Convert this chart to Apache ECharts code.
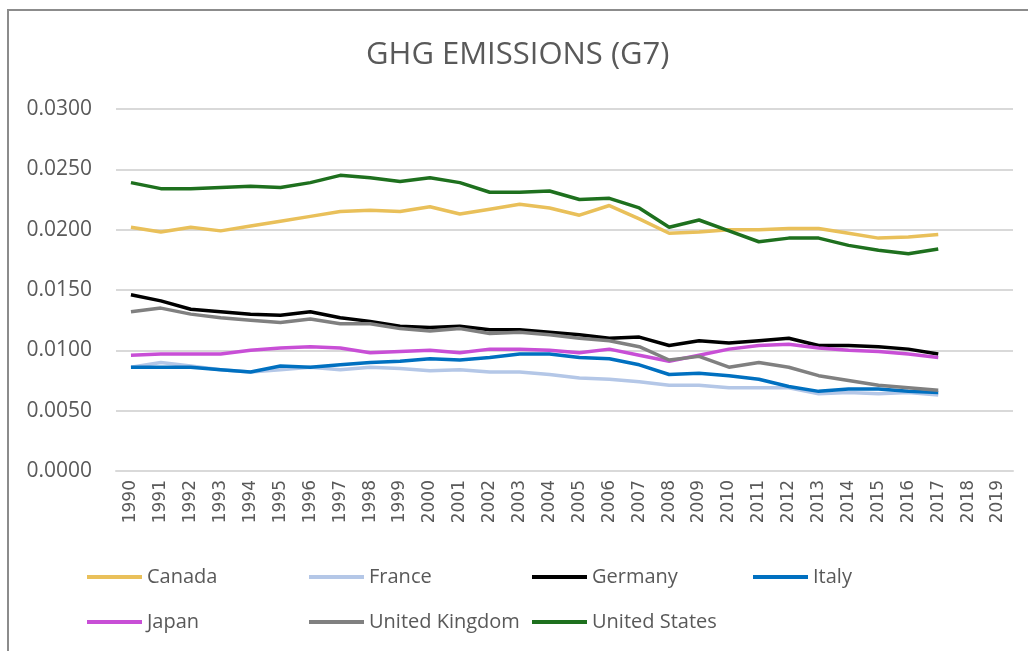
<!DOCTYPE html>
<html>
<head>
<meta charset="utf-8">
<script src="https://cdn.jsdelivr.net/npm/echarts@6/dist/echarts.min.js"></script>
<style>
html,body{margin:0;padding:0;background:#fff;}
#chart{width:1028px;height:651px;}
</style>
</head>
<body>
<div id="chart"></div>
<script>
const years = ['1990','1991','1992','1993','1994','1995','1996','1997','1998','1999','2000','2001','2002','2003','2004','2005','2006','2007','2008','2009','2010','2011','2012','2013','2014','2015','2016','2017','2018','2019'];
const yTicks = [0, 0.005, 0.01, 0.015, 0.02, 0.025, 0.03];

const canada = [0.0202,0.0198,0.0202,0.0199,0.0203,0.0207,0.0211,0.0215,0.0216,0.0215,0.0219,0.0213,0.0217,0.0221,0.0218,0.0212,0.0220,0.0209,0.0197,0.0198,0.0200,0.0200,0.0201,0.0201,0.0197,0.0193,0.0194,0.0196];
const france = [0.0086,0.0090,0.0087,0.0084,0.0082,0.0084,0.0086,0.0084,0.0086,0.0085,0.0083,0.0084,0.0082,0.0082,0.0080,0.0077,0.0076,0.0074,0.0071,0.0071,0.0069,0.0069,0.0069,0.0064,0.0065,0.0064,0.0065,0.0063];
const germany = [0.0146,0.0141,0.0134,0.0132,0.0130,0.0129,0.0132,0.0127,0.0124,0.0120,0.0119,0.0120,0.0117,0.0117,0.0115,0.0113,0.0110,0.0111,0.0104,0.0108,0.0106,0.0108,0.0110,0.0104,0.0104,0.0103,0.0101,0.0097];
const italy = [0.0086,0.0086,0.0086,0.0084,0.0082,0.0087,0.0086,0.0088,0.0090,0.0091,0.0093,0.0092,0.0094,0.0097,0.0097,0.0094,0.0093,0.0088,0.0080,0.0081,0.0079,0.0076,0.0070,0.0066,0.0068,0.0068,0.0066,0.0065];
const japan = [0.0096,0.0097,0.0097,0.0097,0.0100,0.0102,0.0103,0.0102,0.0098,0.0099,0.0100,0.0098,0.0101,0.0101,0.0100,0.0098,0.0101,0.0096,0.0091,0.0096,0.0101,0.0104,0.0105,0.0102,0.0100,0.0099,0.0097,0.0094];
const uk = [0.0132,0.0135,0.0130,0.0127,0.0125,0.0123,0.0126,0.0122,0.0122,0.0118,0.0116,0.0118,0.0114,0.0115,0.0113,0.0110,0.0108,0.0103,0.0092,0.0095,0.0086,0.0090,0.0086,0.0079,0.0075,0.0071,0.0069,0.0067];
const us = [0.0239,0.0234,0.0234,0.0235,0.0236,0.0235,0.0239,0.0245,0.0243,0.0240,0.0243,0.0239,0.0231,0.0231,0.0232,0.0225,0.0226,0.0218,0.0202,0.0208,0.0199,0.0190,0.0193,0.0193,0.0187,0.0183,0.0180,0.0184];

const names = ['Canada','France','Germany','Italy','Japan','United Kingdom','United States'];
const colors = ['#E9C05A','#B4C7E7','#000000','#0070C0','#C84FD6','#808080','#1E701E'];
const dataSets = [canada, france, germany, italy, japan, uk, us];

const legendPos = [
  {left:87, top:567},{left:309, top:567},{left:532, top:567},{left:753, top:567},
  {left:87, top:612},{left:309, top:612},{left:532, top:612}
];

const chart = echarts.init(document.getElementById('chart'), null, {renderer:'canvas'});
const option = {
  backgroundColor:'#ffffff',
  animation:false,
  title:{
    text:'GHG EMISSIONS (G7)',
    left:366, top:40, padding:0,
    textStyle:{fontFamily:'Open Sans', fontSize:31, fontWeight:'normal', color:'#595959'}
  },
  graphic:[{
    type:'rect', shape:{x:8, y:10, width:1100, height:700},
    style:{fill:'none', stroke:'#8c8c8c', lineWidth:2}, silent:true
  }],
  legend: names.map((n,i)=>({
    data:[n], left:legendPos[i].left, top:legendPos[i].top, padding:0,
    icon:'rect', itemWidth:55, itemHeight:4, itemGap:5,
    textStyle:{fontFamily:'Open Sans', fontSize:20, color:'#595959'},
    selectedMode:false
  })),
  grid:{left:116, right:15, top:109, bottom:180, containLabel:false},
  xAxis:{
    type:'category', data:years, boundaryGap:true,
    axisLine:{lineStyle:{color:'#d9d9d9', width:2}},
    axisTick:{show:false},
    axisLabel:{rotate:90, interval:0, margin:9, fontFamily:'DejaVu Sans', fontSize:17, color:'#595959'}
  },
  yAxis:{
    type:'value', min:yTicks[0], max:yTicks[yTicks.length-1], interval:0.005,
    axisLine:{show:false}, axisTick:{show:false},
    splitLine:{lineStyle:{color:'#d9d9d9', width:2}},
    axisLabel:{margin:24, fontFamily:'Open Sans', fontSize:21, color:'#595959', formatter:v=>v.toFixed(4)}
  },
  series: names.map((n,i)=>({
    name:n, type:'line', data:dataSets[i], showSymbol:false, symbol:'none',
    lineStyle:{color:colors[i], width:3.5}, itemStyle:{color:colors[i]},
    z: i===1 ? 1 : 2
  }))
};
chart.setOption(option);
</script>
</body>
</html>
